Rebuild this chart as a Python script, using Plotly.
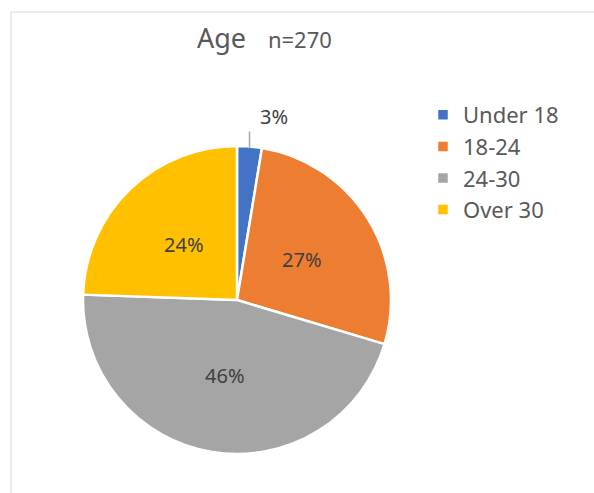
import math
import plotly.graph_objects as go

categories = ["Under 18", "18-24", "24-30", "Over 30"]
counts = [7, 73, 124, 66]
colors = ["#4472C4", "#ED7D31", "#A5A5A5", "#FFC000"]
title_main = "Age"
title_n = "n=270"

W, H = 594, 493
cx, cy, r = 237, 300, 154
label_font = dict(size=20, color="#404040", family="Noto Sans")

fig = go.Figure(go.Pie(
    labels=categories,
    values=counts,
    sort=False,
    direction="clockwise",
    rotation=0,
    marker=dict(colors=colors, line=dict(color="white", width=2.5)),
    textinfo="none",
    domain=dict(x=[(cx - r) / W, (cx + r) / W], y=[(H - cy - r) / H, (H - cy + r) / H]),
    hoverinfo="skip",
))

# percentage labels placed along each slice's mid-angle (derived from the data)
total = sum(counts)
annotations = []
shapes = []
cum = 0
for i, v in enumerate(counts):
    mid = (cum + v / 2) / total * 2 * math.pi
    cum += v
    pct = f"{round(100 * v / total)}%"
    if v / total < 0.05:
        ex, ey = cx + r * math.sin(mid), cy - r * math.cos(mid)
        shapes.append(dict(type="line", xref="paper", yref="paper",
                           x0=ex / W, x1=ex / W, y0=1 - (ey + 1) / H, y1=1 - (ey - 15) / H,
                           line=dict(color="#A6A6A6", width=1.5)))
        annotations.append(dict(text=pct, x=(ex + 24) / W, y=1 - (ey - 30) / H,
                                xref="paper", yref="paper", showarrow=False,
                                xanchor="center", yanchor="middle", font=label_font))
    else:
        lx, ly = cx + 0.5 * r * math.sin(mid), cy - 0.5 * r * math.cos(mid)
        annotations.append(dict(text=pct, x=lx / W, y=1 - ly / H,
                                xref="paper", yref="paper", showarrow=False,
                                xanchor="center", yanchor="middle", font=label_font))

annotations.append(dict(
    text=f"<span style='font-size:27px'>{title_main}</span>&nbsp;&nbsp;&nbsp;&nbsp;&nbsp;&nbsp;&nbsp;<span style='font-size:22px'>{title_n}</span>",
    x=264 / W, y=1 - 38 / H, xref="paper", yref="paper", showarrow=False,
    xanchor="center", yanchor="middle", font=dict(color="#595959", family="Noto Sans")))

shapes += [
    dict(type="line", xref="paper", yref="paper", x0=11 / W, x1=11 / W, y0=0, y1=1 - 12 / H,
         line=dict(color="#D9D9D9", width=1)),
    dict(type="line", xref="paper", yref="paper", x0=11 / W, x1=1, y0=1 - 12 / H, y1=1 - 12 / H,
         line=dict(color="#D9D9D9", width=1)),
]

fig.update_layout(
    width=W, height=H, autosize=False,
    margin=dict(l=0, r=0, t=0, b=0),
    paper_bgcolor="white",
    font=dict(family="Noto Sans", color="#595959"),
    showlegend=True,
    legend=dict(x=423 / W, y=1 - 94 / H, xanchor="left", yanchor="top",
                font=dict(size=22, color="#595959"), itemwidth=30),
    annotations=annotations,
    shapes=shapes,
)

fig.write_html("out.html", config={"displayModeBar": False},
               post_script="document.body.style.margin='0';document.body.style.overflow='hidden';")
